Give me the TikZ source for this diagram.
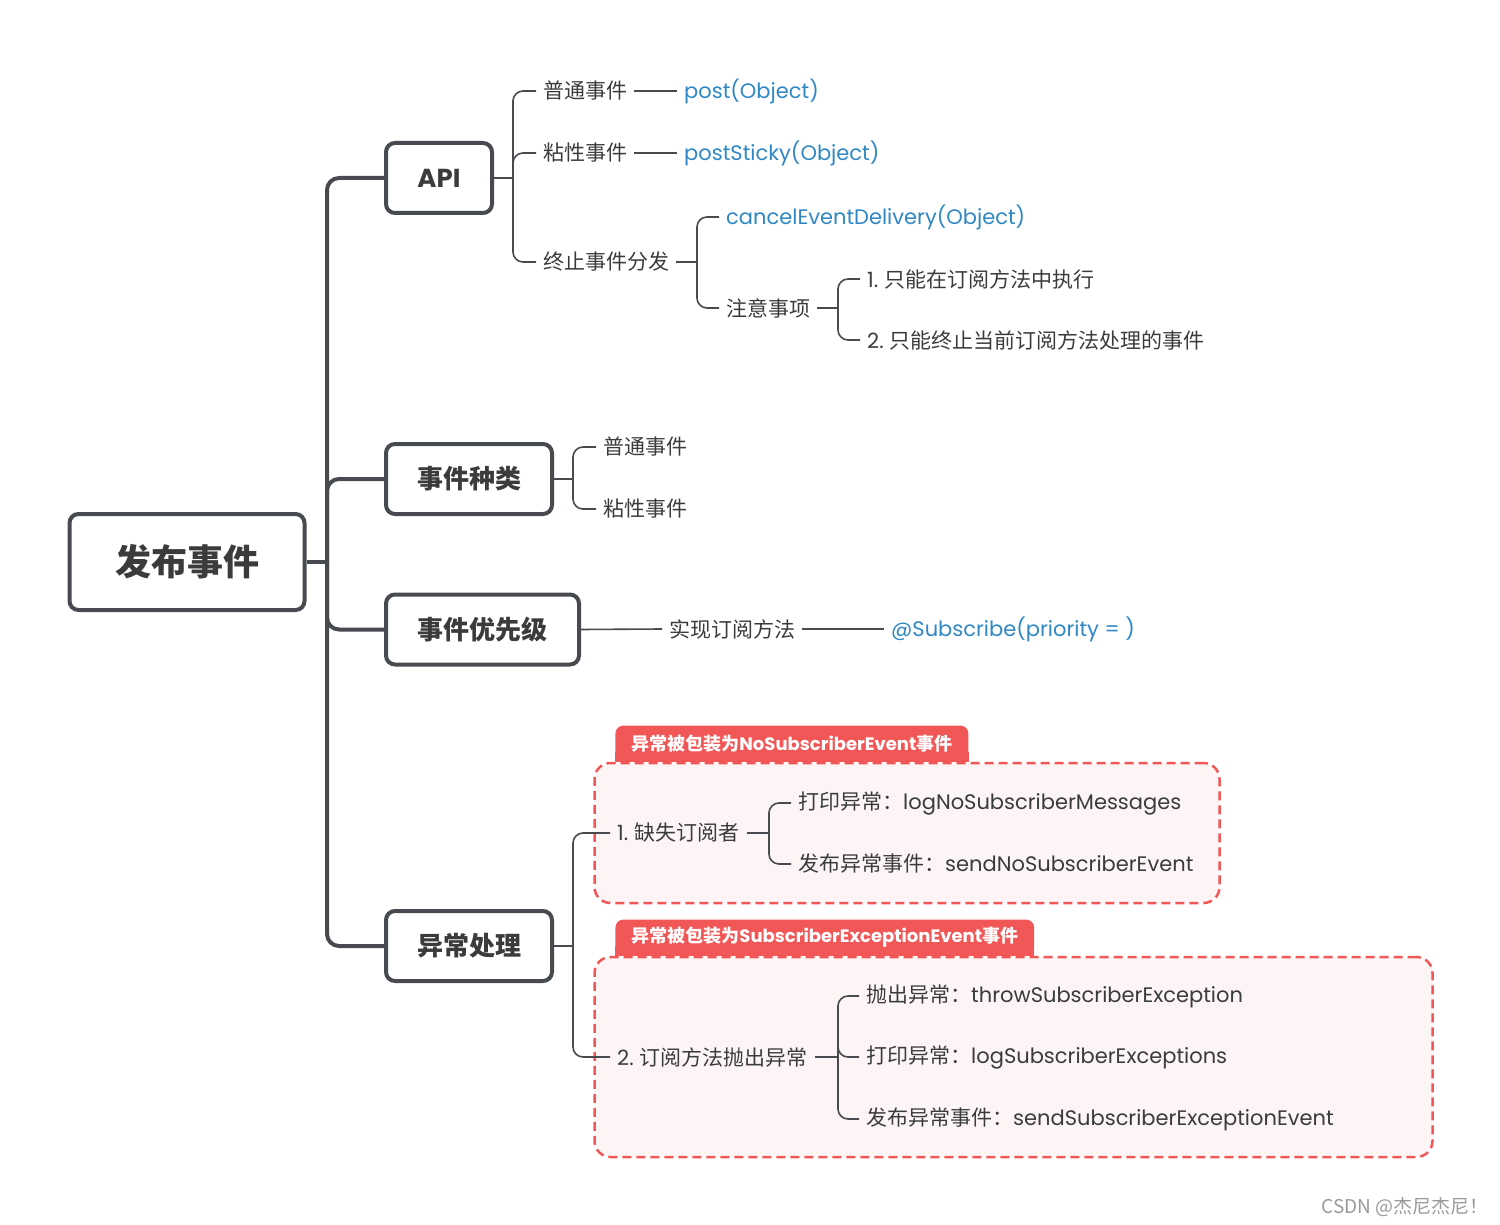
\documentclass[tikz,border=0pt]{standalone}
\usepackage{fontspec}
\setmainfont{Noto Sans CJK SC}
\newfontfamily\enfont{Poppins}
\newcommand\enpart[1]{{\enfont #1}}
\usetikzlibrary{backgrounds}

\definecolor{linegray}{HTML}{474A4F}
\definecolor{textgray}{HTML}{3A3B3D}
\definecolor{codeblue}{HTML}{2F88C3}
\definecolor{tagred}{HTML}{F25757}
\definecolor{framefill}{HTML}{FDF5F5}

\begin{document}
\begin{tikzpicture}[x=1pt, y=-1pt,
    topic/.style={draw=linegray, line width=4pt, rounded corners=9pt, fill=white,
      text=textgray, font=\fontsize{26}{30}\selectfont\bfseries, minimum height=70pt},
    root/.style={topic, minimum width=235pt, minimum height=96pt,
      font=\fontsize{36}{40}\selectfont\bfseries},
    leaf/.style={anchor=west, inner xsep=7pt, text=textgray, font=\fontsize{21}{25}\selectfont},
    code/.style={leaf, text=codeblue},
    trunk/.style={draw=linegray, line width=4pt, rounded corners=12pt},
    twig/.style={draw=linegray, line width=1.6pt, rounded corners=10pt},
    frame/.style={draw=tagred, line width=2.5pt, dash pattern=on 9pt off 5pt,
      fill=framefill, rounded corners=16pt},
    tag/.style={anchor=south west, fill=tagred, text=white, rounded corners=8pt,
      inner xsep=16pt, minimum height=36pt, font=\fontsize{18}{20}\selectfont\bfseries}]
    \useasboundingbox (0,0) rectangle (1500,1225);

    \node[root] (root) at (187,562) {发布事件};
    \node[topic, minimum width=106pt] (api) at (439,178) {\enpart{API}};
    \node[topic, minimum width=166pt] (kind) at (469,479) {事件种类};
    \node[topic, minimum width=193pt] (prio) at (482.5,629.5) {事件优先级};
    \node[topic, minimum width=166pt] (exc) at (469,946) {异常处理};

    \coordinate (hub) at (327,562);
    \draw[trunk] (root.east) -- (hub);
    \foreach \t in {api,kind,prio,exc}
      \draw[trunk] (hub) |- (\t.west);

    \node[leaf] (evNormal) at (536,91) {普通事件};
    \node[leaf] (evSticky) at (536,153) {粘性事件};
    \node[leaf] (evCancel) at (536,262) {终止事件分发};
    \node[code] (post) at (677,91) {\enpart{post(Object)}};
    \node[code] (postSticky) at (677,153) {\enpart{postSticky(Object)}};
    \coordinate (apihub) at (513,178);
    \draw[twig] (api.east) -- (apihub);
    \foreach \l in {evNormal,evSticky,evCancel}
      \draw[twig] (apihub) |- (\l.west);
    \draw[twig] (evNormal.east) -- (post.west);
    \draw[twig] (evSticky.east) -- (postSticky.west);

    \node[code] (cancelApi) at (719,217) {\enpart{cancelEventDelivery(Object)}};
    \node[leaf] (notice) at (719,308) {注意事项};
    \coordinate (cancelhub) at (697,262);
    \draw[twig] (evCancel.east) -- (cancelhub);
    \draw[twig] (cancelhub) |- (cancelApi.west);
    \draw[twig] (cancelhub) |- (notice.west);

    \node[leaf] (rule1) at (860,279) {\enpart{1.} 只能在订阅方法中执行};
    \node[leaf] (rule2) at (860,340) {\enpart{2.} 只能终止当前订阅方法处理的事件};
    \coordinate (noticehub) at (838,308);
    \draw[twig] (notice.east) -- (noticehub);
    \draw[twig] (noticehub) |- (rule1.west);
    \draw[twig] (noticehub) |- (rule2.west);

    \node[leaf] (kindNormal) at (596,447) {普通事件};
    \node[leaf] (kindSticky) at (596,509) {粘性事件};
    \coordinate (kindhub) at (573,479);
    \draw[twig] (kind.east) -- (kindhub);
    \draw[twig] (kindhub) |- (kindNormal.west);
    \draw[twig] (kindhub) |- (kindSticky.west);

    \node[leaf] (prioImpl) at (662,629) {实现订阅方法};
    \node[code] (prioAnno) at (884,629) {\enpart{@Subscribe(priority = )}};
    \draw[twig] (prio.east) -- (prioImpl.west);
    \draw[twig] (prioImpl.east) -- (prioAnno.west);

    \node[frame, minimum width=625pt, minimum height=140pt] (frameA) at (907,833) {};
    \node[frame, minimum width=838pt, minimum height=200pt] (frameB) at (1013.5,1057) {};
    \node[tag] (tagA) at ([xshift=22pt]frameA.north west) {异常被包装为\enpart{NoSubscriberEvent}事件};
    \node[tag] (tagB) at ([xshift=22pt]frameB.north west) {异常被包装为\enpart{SubscriberExceptionEvent}事件};
    \begin{scope}[on background layer]
      \fill[tagred] ([yshift=10pt]tagA.south west) rectangle (tagA.south east);
      \fill[tagred] ([yshift=10pt]tagB.south west) rectangle (tagB.south east);
    \end{scope}

    \node[leaf] (missing) at (610,833) {\enpart{1.} 缺失订阅者};
    \node[leaf] (thrown) at (610,1057) {\enpart{2.} 订阅方法抛出异常};
    \coordinate (exchub) at (573,946);
    \draw[twig] (exc.east) -- (exchub);
    \draw[twig] (exchub) |- (missing.west);
    \draw[twig] (exchub) |- (thrown.west);

    \node[leaf] (logNoSub) at (791,803) {打印异常：\enpart{logNoSubscriberMessages}};
    \node[leaf] (sendNoSub) at (791,864) {发布异常事件：\enpart{sendNoSubscriberEvent}};
    \coordinate (missinghub) at (769,833);
    \draw[twig] (missing.east) -- (missinghub);
    \draw[twig] (missinghub) |- (logNoSub.west);
    \draw[twig] (missinghub) |- (sendNoSub.west);

    \node[leaf] (throwExc) at (859,996) {抛出异常：\enpart{throwSubscriberException}};
    \node[leaf] (logExc) at (859,1057) {打印异常：\enpart{logSubscriberExceptions}};
    \node[leaf] (sendExc) at (859,1119) {发布异常事件：\enpart{sendSubscriberExceptionEvent}};
    \coordinate (thrownhub) at (838,1057);
    \draw[twig] (thrown.east) -- (thrownhub);
    \foreach \l in {throwExc,logExc,sendExc}
      \draw[twig] (thrownhub) |- (\l.west);

    \node[anchor=east, text=black!40, font=\fontsize{19}{22}\selectfont] (mark) at (1492,1207) {CSDN @杰尼杰尼！};
\end{tikzpicture}
\end{document}
